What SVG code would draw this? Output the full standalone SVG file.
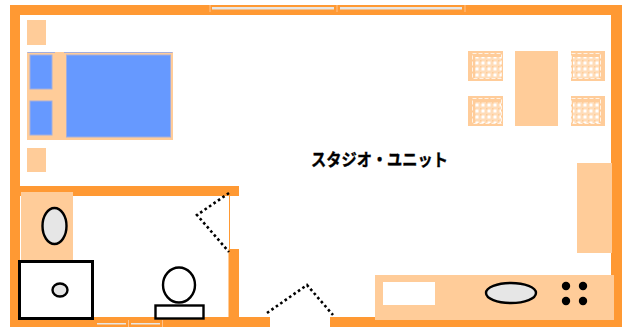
<svg xmlns="http://www.w3.org/2000/svg" width="622" height="327" viewBox="0 0 622 327">
<style>
.wall{fill:#f93}.pe{fill:#fc9}.bl{fill:#69f;stroke:#a3aede;stroke-width:1}
.ln{stroke:#000;fill:none}.g{fill:#e6e6e6;stroke:#000;stroke-width:2.4}
.w{fill:#fff;stroke:#000}.win{fill:#e6e6e6}.m{stroke:#ffc38c;stroke-width:1;fill:none}
.dot{fill:none;stroke:#000;stroke-width:2.6;stroke-dasharray:2.6 2.8}
.ch{fill:url(#chk)}.d{fill:none;stroke:#fff;stroke-opacity:.75;stroke-width:1;stroke-dasharray:4 2}
</style>
<defs><pattern id="chk" width="6" height="6" patternUnits="userSpaceOnUse"><rect width="6" height="6" fill="#ffdcb8"/><rect x="1.500" y="1.500" width="3" height="3" fill="#fff"/><rect x="0" y="0" width="1.500" height="1.500" fill="#fc9"/></pattern></defs>
<g id="walls">
<rect class="wall" x="10" y="5" width="612" height="10"/>
<rect class="wall" x="611" y="5" width="11" height="322"/>
<rect class="wall" x="10" y="5" width="10" height="322"/>
<rect class="wall" x="10" y="186" width="229" height="10"/>
<rect class="wall" x="228.500" y="249" width="10.500" height="68"/>
<rect class="wall" x="10" y="317" width="260" height="10"/>
<rect class="wall" x="330" y="317" width="292" height="10"/>
<rect x="229" y="196" width="1" height="53" fill="#f93"/>
</g>
<g id="windows">
<rect class="win" x="212" y="7" width="122" height="2.500"/><rect class="win" x="340" y="7" width="122" height="2.500"/>
<path class="m" d="M210 5V12M337 5V12M465 5V12"/>
<rect class="win" x="97" y="323" width="29" height="1.500"/><rect class="win" x="131" y="323" width="29" height="1.500"/>
<path class="m" d="M128.500 320V327M162.500 320V327"/>
</g>
<g id="nightstand-top"><rect class="pe" x="27" y="20" width="19" height="25"/></g>
<g id="nightstand-bottom"><rect class="pe" x="27" y="148" width="19" height="24"/></g>
<g id="bed">
<rect x="27" y="52" width="146" height="88" fill="#fc9"/>
<path d="M27.500 52.500H55M64 52.500H172.500" stroke="#a3aede" fill="none"/>
<rect class="bl" x="30" y="55" width="22" height="34"/>
<rect class="bl" x="30" y="101" width="22" height="34"/>
<rect class="bl" x="66.500" y="55" width="104" height="82"/>
</g>
<g id="chair-1"><rect class="pe" x="468" y="51" width="35" height="30"/><rect class="ch" x="475" y="57" width="26" height="21"/><rect class="d" x="472.500" y="53.500" width="29" height="25"/></g>
<g id="chair-2"><rect class="pe" x="468" y="96" width="35" height="30"/><rect class="ch" x="475" y="102" width="26" height="21"/><rect class="d" x="472.500" y="98.500" width="29" height="25"/></g>
<g id="chair-3"><rect class="pe" x="571" y="51" width="34" height="30"/><rect class="ch" x="573" y="57" width="26" height="21"/><rect class="d" x="571.500" y="53.500" width="29" height="25"/></g>
<g id="chair-4"><rect class="pe" x="571" y="96" width="34" height="30"/><rect class="ch" x="573" y="102" width="26" height="21"/><rect class="d" x="571.500" y="98.500" width="29" height="25"/></g>
<g id="table"><rect class="pe" x="515" y="51" width="43" height="75"/></g>
<g id="cabinet"><rect class="pe" x="577" y="163" width="35" height="90"/></g>
<g id="kitchen">
<rect class="pe" x="375" y="275" width="239" height="45"/>
<rect x="383" y="282" width="52" height="23" fill="#fff"/>
<ellipse class="g" cx="511" cy="293" rx="25" ry="10"/>
<circle cx="566" cy="286" r="4.200"/><circle cx="583" cy="286" r="4.200"/><circle cx="566" cy="301" r="4.200"/><circle cx="583" cy="301" r="4.200"/>
</g>
<g id="washbasin"><rect class="pe" x="21" y="192" width="52" height="68"/><ellipse class="g" cx="54.500" cy="226" rx="12" ry="18"/></g>
<g id="bathtub"><rect class="w" x="19.500" y="261.500" width="73" height="57" stroke-width="3"/><ellipse class="g" cx="60" cy="290" rx="7.500" ry="6.500"/></g>
<g id="toilet"><ellipse class="w" cx="179" cy="285" rx="16" ry="17.500" stroke-width="2.400"/><rect class="w" x="155.500" y="305.500" width="48" height="13" stroke-width="2.400"/></g>
<g id="connectors">
<path class="dot" d="M229 193L197 215L229 252"/>
<path class="dot" d="M267 313L307 285L333 315"/>
</g>
<g id="label"><text x="311" y="166" font-family="'Noto Sans CJK JP',sans-serif" font-weight="700" font-size="17" stroke="#000" stroke-width=".4" textLength="137" lengthAdjust="spacingAndGlyphs">スタジオ・ユニット</text></g>
</svg>
